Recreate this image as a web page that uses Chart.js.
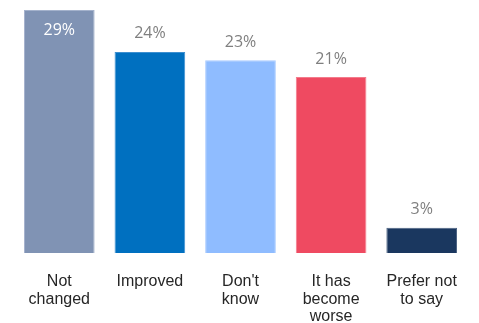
<!DOCTYPE html>
<html>
<head>
<meta charset="utf-8">
<script src="https://cdn.jsdelivr.net/npm/chart.js@4/dist/chart.umd.min.js"></script>
<style>
  html, body { margin: 0; padding: 0; background: #fff; }
  #wrap { width: 479px; height: 323px; }
</style>
</head>
<body>
<div id="wrap"><canvas id="barChart"></canvas></div>
<script>
// data
var categories = [['Not', 'changed'], 'Improved', ['Don\'t', 'know'], ['It has', 'become', 'worse'], ['Prefer not', 'to say']];
var percents = [29, 24, 23, 21, 3];
var barColors = ['#8093b4', '#0070c0', '#8fbcff', '#ef4a61', '#1a375f'];
var edgeColors = ['#a4b2cc', '#3d8fd0', '#a9cbff', '#f37b8b', '#4a6080'];

// value labels above bars (first one sits inside in white)
var valueLabels = {
    id: 'valueLabels',
    afterDatasetsDraw: function (chart) {
        var ctx = chart.ctx;
        var meta = chart.getDatasetMeta(0);
        ctx.save();
        ctx.font = '16px "Open Sans", sans-serif';
        ctx.textAlign = 'center';
        ctx.textBaseline = 'middle';
        meta.data.forEach(function (bar, i) {
            var y = bar.y - 18;
            ctx.fillStyle = '#7f7f7f';
            if (y < chart.chartArea.top + 10) {
                y = bar.y + 20;
                ctx.fillStyle = '#ffffff';
            }
            ctx.fillText(percents[i] + '%', bar.x, y);
        });
        ctx.restore();
    }
};

var ctx = document.getElementById('barChart').getContext('2d');
var barChart = new Chart(ctx, {
    type: 'bar',
    data: {
        labels: categories,
        datasets: [{
            data: percents,
            backgroundColor: barColors,
            borderColor: edgeColors,
            borderWidth: 1,
            barPercentage: 0.78,
            categoryPercentage: 1.0
        }]
    },
    options: {
        responsive: true,
        maintainAspectRatio: false,
        animation: false,
        layout: { padding: { left: 14, right: 12, top: 10, bottom: 0 } },
        plugins: {
            legend: { display: false },
            tooltip: { enabled: false }
        },
        scales: {
            x: {
                grid: { display: false, drawTicks: false },
                border: { display: false },
                afterFit: function (scale) {
                    scale.height = 70;
                },
                ticks: {
                    color: '#262626',
                    font: { family: '"Liberation Sans", Arial, sans-serif', size: 16, lineHeight: 1.1 },
                    padding: 20,
                    maxRotation: 0,
                    autoSkip: false
                }
            },
            y: {
                display: false,
                min: 0,
                max: 29
            }
        }
    },
    plugins: [valueLabels]
});
</script>
</body>
</html>
